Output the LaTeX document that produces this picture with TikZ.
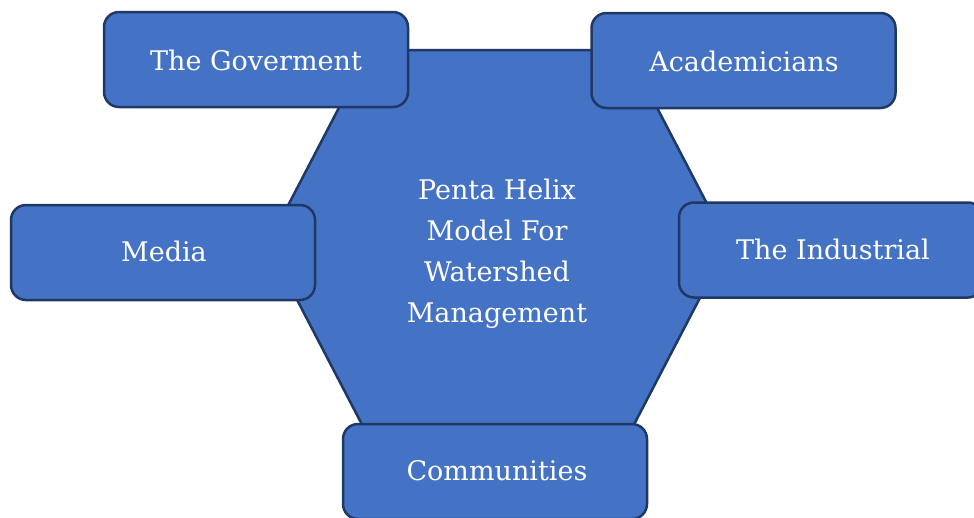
\documentclass[tikz,border=0pt]{standalone}
\usepackage{fontspec}
\setmainfont{DejaVu Serif}
\definecolor{fillblue}{HTML}{4472C4}
\definecolor{edgeblue}{HTML}{1F3864}
\begin{document}
\begin{tikzpicture}[x=1pt,y=-1pt,
  helixbox/.style={draw=edgeblue, fill=fillblue, line width=2.5pt, rounded corners=15pt,
    minimum width=304pt, minimum height=95pt, inner sep=0pt, text=white,
    font=\fontsize{27}{33}\selectfont},
  hexshape/.style={draw=edgeblue, fill=fillblue, line width=2.5pt, line join=miter}]
\useasboundingbox (0,0) rectangle (974,517);
\clip (0,0) rectangle (974,517);
\draw[hexshape] (369,50) -- (627,50) -- (728,244) -- (627,438) -- (369,438) -- (268,244) -- cycle;
\node[text=white, align=center, font=\fontsize{27}{41}\selectfont] (core) at (497,254)
  {Penta Helix\\Model For\\Watershed\\Management};
\node[helixbox] (gov) at (256,59.5) {};
\node[text=white, font=\fontsize{27}{33}\selectfont] (govtext) at (256,60) {The Goverment};
\node[helixbox] (acad) at (743.5,60.5) {};
\node[text=white, font=\fontsize{27}{33}\selectfont] (acadtext) at (744,61) {Academicians};
\node[helixbox] (media) at (163,252.5) {};
\node[text=white, font=\fontsize{27}{33}\selectfont] (mediatext) at (164,251) {Media};
\node[helixbox] (ind) at (831,250) {};
\node[text=white, font=\fontsize{27}{33}\selectfont] (indtext) at (833,249) {The Industrial};
\node[helixbox] (comm) at (495,471.5) {};
\node[text=white, font=\fontsize{27}{33}\selectfont] (commtext) at (497,471) {Communities};
\end{tikzpicture}
\end{document}
